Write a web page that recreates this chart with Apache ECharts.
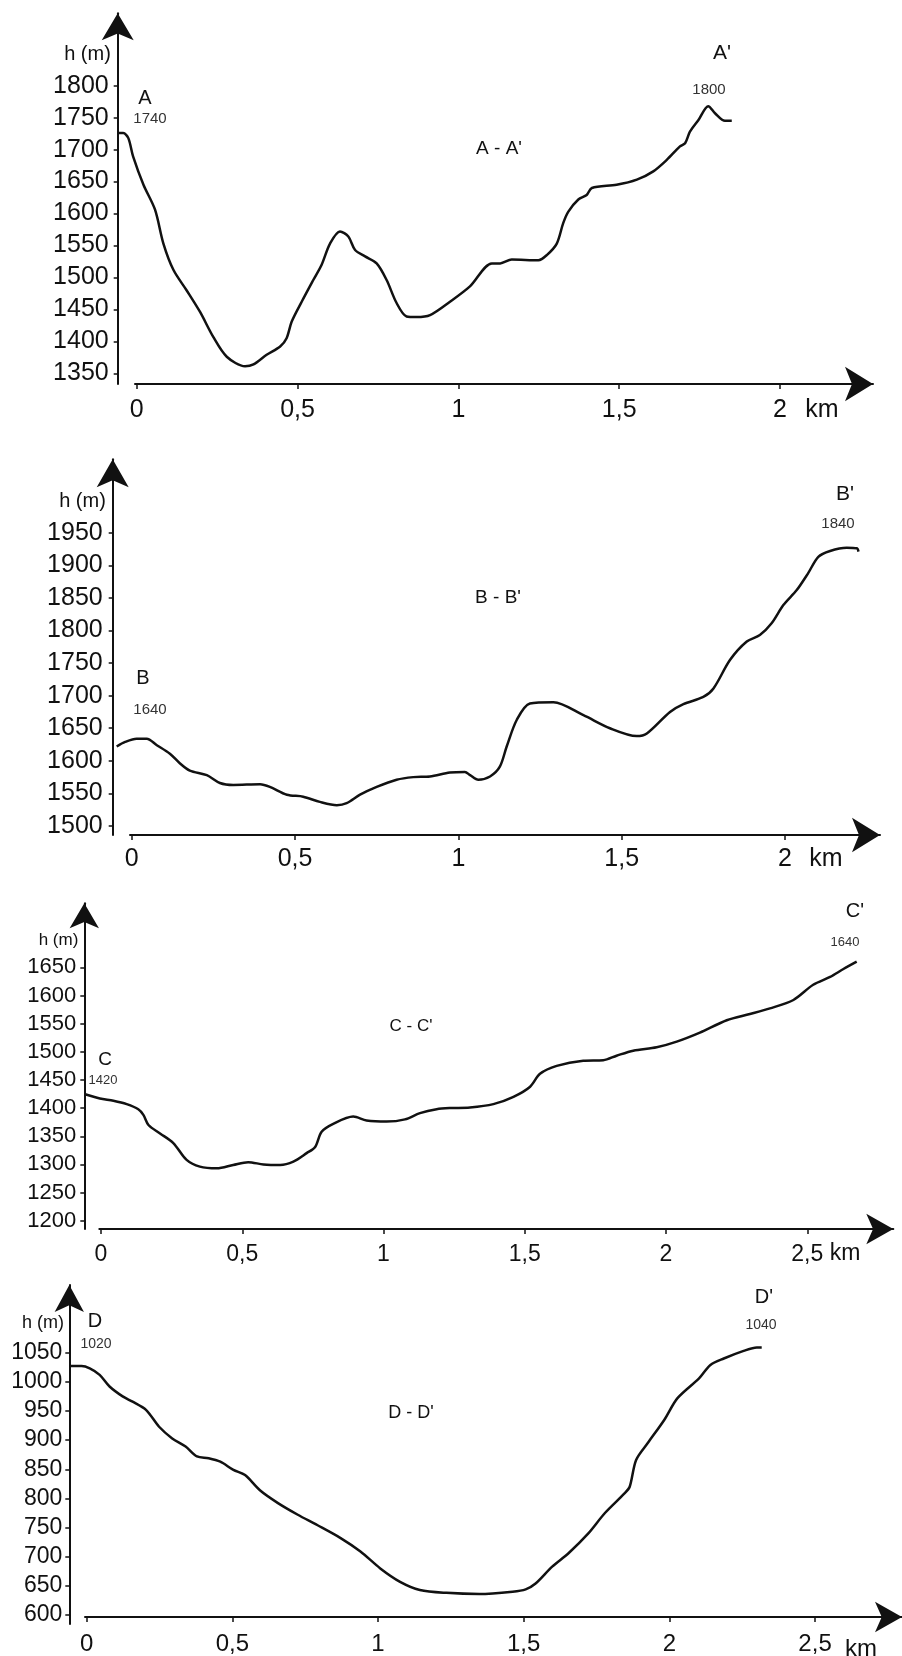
<!DOCTYPE html>
<html>
<head>
<meta charset="utf-8">
<script src="https://cdn.jsdelivr.net/npm/echarts@6/dist/echarts.min.js"></script>
<style>html,body{margin:0;padding:0;background:#fff;}#c{width:902px;height:1656px;}</style>
</head>
<body>
<div id="c"></div>
<script>
// ---- Data (distance in km, elevation in m) ----
const aDist = [-0.057,-0.042,-0.026,-0.011,0.021,0.057,0.083,0.114,0.155,0.197,0.238,0.28,0.337,0.363,0.404,0.446,0.466,0.482,0.513,0.549,0.575,0.601,0.632,0.658,0.679,0.71,0.746,0.777,0.808,0.839,0.87,0.912,0.974,1.036,1.104,1.13,1.166,1.249,1.275,1.306,1.326,1.342,1.373,1.399,1.415,1.492,1.555,1.606,1.648,1.689,1.705,1.72,1.746,1.777,1.798,1.829,1.85];
const aElev = [1726,1726,1718,1689,1645,1606,1553,1512,1480,1446,1407,1376,1361,1364,1379,1392,1405,1431,1462,1496,1520,1553,1572,1564,1543,1533,1522,1496,1460,1439,1438,1441,1462,1486,1522,1522,1528,1527,1535,1553,1585,1603,1622,1629,1640,1645,1653,1666,1684,1705,1710,1728,1746,1768,1757,1745,1745];

const bDist = [-0.046,-0.02,0.015,0.046,0.077,0.117,0.148,0.178,0.23,0.27,0.311,0.393,0.423,0.475,0.525,0.576,0.628,0.658,0.699,0.75,0.811,0.862,0.913,0.974,1.02,1.036,1.061,1.097,1.127,1.148,1.179,1.219,1.291,1.383,1.464,1.546,1.577,1.648,1.689,1.75,1.781,1.832,1.883,1.923,1.959,1.995,2.036,2.071,2.102,2.138,2.189,2.22,2.225];
const bElev = [1622,1629,1634,1634,1624,1611,1596,1585,1578,1566,1563,1564,1560,1548,1545,1537,1532,1535,1548,1560,1571,1575,1576,1582,1583,1578,1571,1576,1591,1622,1663,1688,1690,1670,1650,1638,1642,1675,1687,1698,1711,1755,1783,1793,1811,1839,1862,1888,1913,1922,1927,1926,1921];

const cDist = [-0.059,-0.004,0.044,0.091,0.132,0.15,0.168,0.209,0.256,0.303,0.35,0.41,0.468,0.521,0.575,0.634,0.681,0.728,0.758,0.781,0.822,0.893,0.94,1.011,1.076,1.129,1.188,1.235,1.306,1.389,1.46,1.519,1.554,1.613,1.707,1.778,1.825,1.884,1.967,2.038,2.12,2.215,2.297,2.368,2.451,2.521,2.581,2.628,2.675];
const cElev = [1425,1417,1413,1407,1398,1388,1370,1355,1338,1308,1296,1293,1299,1304,1300,1299,1305,1320,1331,1358,1372,1385,1378,1376,1380,1391,1398,1400,1401,1407,1420,1438,1461,1475,1484,1485,1493,1502,1508,1518,1534,1556,1567,1577,1592,1619,1633,1647,1660];

const dDist = [-0.057,-0.017,0.011,0.045,0.079,0.124,0.158,0.204,0.249,0.294,0.34,0.379,0.419,0.459,0.504,0.544,0.595,0.657,0.725,0.793,0.872,0.94,1.008,1.076,1.144,1.235,1.348,1.462,1.507,1.541,1.598,1.654,1.722,1.779,1.847,1.864,1.886,1.926,1.983,2.028,2.102,2.141,2.187,2.255,2.3,2.317];
const dElev = [1027,1027,1023,1012,992,975,966,952,923,903,889,872,869,863,849,840,814,792,772,754,732,709,680,657,643,638,636,640,644,654,683,706,740,775,809,820,866,895,935,972,1006,1029,1040,1053,1059,1059];

// ---- Tick values ----
const aYTicks = [1350,1400,1450,1500,1550,1600,1650,1700,1750,1800];
const bYTicks = [1500,1550,1600,1650,1700,1750,1800,1850,1900,1950];
const cYTicks = [1200,1250,1300,1350,1400,1450,1500,1550,1600,1650];
const dYTicks = [600,650,700,750,800,850,900,950,1000,1050];
const xTicksAB = [0,0.5,1,1.5,2];
const xTicksCD = [0,0.5,1,1.5,2,2.5];

// ---- Annotation texts ----
const aNotes = ['h (m)','A','1740','A - A\'','A\'','1800','km'];
const bNotes = ['h (m)','B','1640','B - B\'','B\'','1840','km'];
const cNotes = ['h (m)','C','1420','C - C\'','C\'','1640','km'];
const dNotes = ['h (m)','D','1020','D - D\'','D\'','1040','km'];

const FONT = '"Liberation Sans", Arial, Helvetica, sans-serif';
const INK = '#111';

// Layout per panel (pixels): yAxis x, xAxis start, arrow tips, axis baseline,
// pixel of x=0 tick and px per km; y extents in metres.
const panels = [
  {dist:aDist, elev:aElev, yTicks:aYTicks, xTicks:xTicksAB, notes:aNotes,
   yAx:117.7, xStart:135, xTip:873, top:13.3, base:384, x0:136.7, kmPx:321.65,
   y:[1333.3, 1913.3], yLbl:25, xLbl:25, xMar:14, yMar:9, ySym:[24,27], xSym:[26,28],
   pos:[[87.5,54.5,20],[145,98,20],[150,119,15],[499,149,19],[722,53,21],[709,90,15],[822,410,25]]},
  {dist:bDist, elev:bElev, yTicks:bYTicks, xTicks:xTicksAB, notes:bNotes,
   yAx:112.7, xStart:130, xTip:880, top:459.3, base:835, x0:131.7, kmPx:326.65,
   y:[1486.2, 2062.6], yLbl:25, xLbl:25, xMar:12, yMar:10, ySym:[24,28], xSym:[26,28],
   pos:[[82.5,501,20],[143,678,20],[150,710,15],[498,598,19],[845,494,21],[838,524,15],[826,859,25]]},
  {dist:cDist, elev:cElev, yTicks:cYTicks, xTicks:xTicksCD, notes:cNotes,
   yAx:84.3, xStart:99.3, xTip:893.3, top:903.3, base:1229, x0:101, kmPx:282.5,
   y:[1185.3, 1763.7], yLbl:22, xLbl:23, xMar:14, yMar:8, ySym:[22,25], xSym:[23,27],
   pos:[[58.5,940,17],[105,1060,19],[103,1080,13],[411,1026,17],[855,911,20],[845,942,13],[845,1254,23]]},
  {dist:dDist, elev:dElev, yTicks:dYTicks, xTicks:xTicksCD, notes:dNotes,
   yAx:69.3, xStart:85, xTip:910, top:1285, base:1624, x0:86.7, kmPx:294.2,
   y:[584.6, 1166.1], yLbl:23, xLbl:24, xMar:15, yMar:7, ySym:[22,27], xSym:[23,27],
   pos:[[43,1323,18],[95,1321,20],[96,1344,14],[411,1413,18],[764,1297,20],[761,1325,14],[861,1649,24]]}
];

const fmtKm = v => String(v).replace('.', ',');
const fmtM = v => String(v);

const option = {
  backgroundColor:'#fff',
  animation:false,
  grid:[], xAxis:[], yAxis:[], series:[], graphic:[]
};

panels.forEach((p) => {
  const h = p.base - p.top;
  const kmAt = px => (px - p.x0) / p.kmPx;
  const xMax = kmAt(p.xTip);
  // data grid: starts at the vertical axis
  const gData = option.grid.length;
  option.grid.push({left:p.yAx, top:p.top, width:p.xTip - p.yAx, height:h});
  // axis grid: horizontal axis starts a little right of the vertical axis
  const gAxis = option.grid.length;
  option.grid.push({left:p.xStart, top:p.top, width:p.xTip - p.xStart, height:h});

  const xData = option.xAxis.length;
  option.xAxis.push({type:'value', gridIndex:gData, min:kmAt(p.yAx), max:xMax, show:false});
  option.xAxis.push({
    type:'value', gridIndex:gAxis, min:kmAt(p.xStart), max:xMax,
    splitLine:{show:false},
    axisLine:{show:true, onZero:false, symbol:['none','arrow'], symbolSize:p.xSym,
      lineStyle:{color:INK, width:2}},
    axisTick:{show:true, customValues:p.xTicks, length:5, lineStyle:{color:INK, width:1.5}},
    axisLabel:{show:true, customValues:p.xTicks, formatter:fmtKm, margin:p.xMar,
      color:INK, fontFamily:FONT, fontSize:p.xLbl}
  });
  const yData = option.yAxis.length;
  option.yAxis.push({
    type:'value', gridIndex:gData, min:p.y[0], max:p.y[1],
    splitLine:{show:false},
    axisLine:{show:true, onZero:false, symbol:['none','arrow'], symbolSize:p.ySym,
      lineStyle:{color:INK, width:2}},
    axisTick:{show:true, customValues:p.yTicks, length:4, lineStyle:{color:INK, width:1.5}},
    axisLabel:{show:true, customValues:p.yTicks, formatter:fmtM, margin:p.yMar,
      color:INK, fontFamily:FONT, fontSize:p.yLbl}
  });
  option.yAxis.push({type:'value', gridIndex:gAxis, min:p.y[0], max:p.y[1], show:false});

  option.series.push({
    type:'line', xAxisIndex:xData, yAxisIndex:yData,
    data:p.dist.map((d, k) => [d, p.elev[k]]),
    smooth:0.3, showSymbol:false,
    lineStyle:{color:INK, width:2.5}
  });
  p.notes.forEach((t, k) => {
    const q = p.pos[k];
    option.graphic.push({
      type:'text', x:q[0], y:q[1], silent:true,
      style:{text:t, fill:(k===2||k===5) ? '#333' : INK, fontFamily:FONT, fontSize:q[2],
        align:'center', verticalAlign:'middle'}
    });
  });
});

const chart = echarts.init(document.getElementById('c'), null, {renderer:'canvas'});
chart.setOption(option);
</script>
</body>
</html>
